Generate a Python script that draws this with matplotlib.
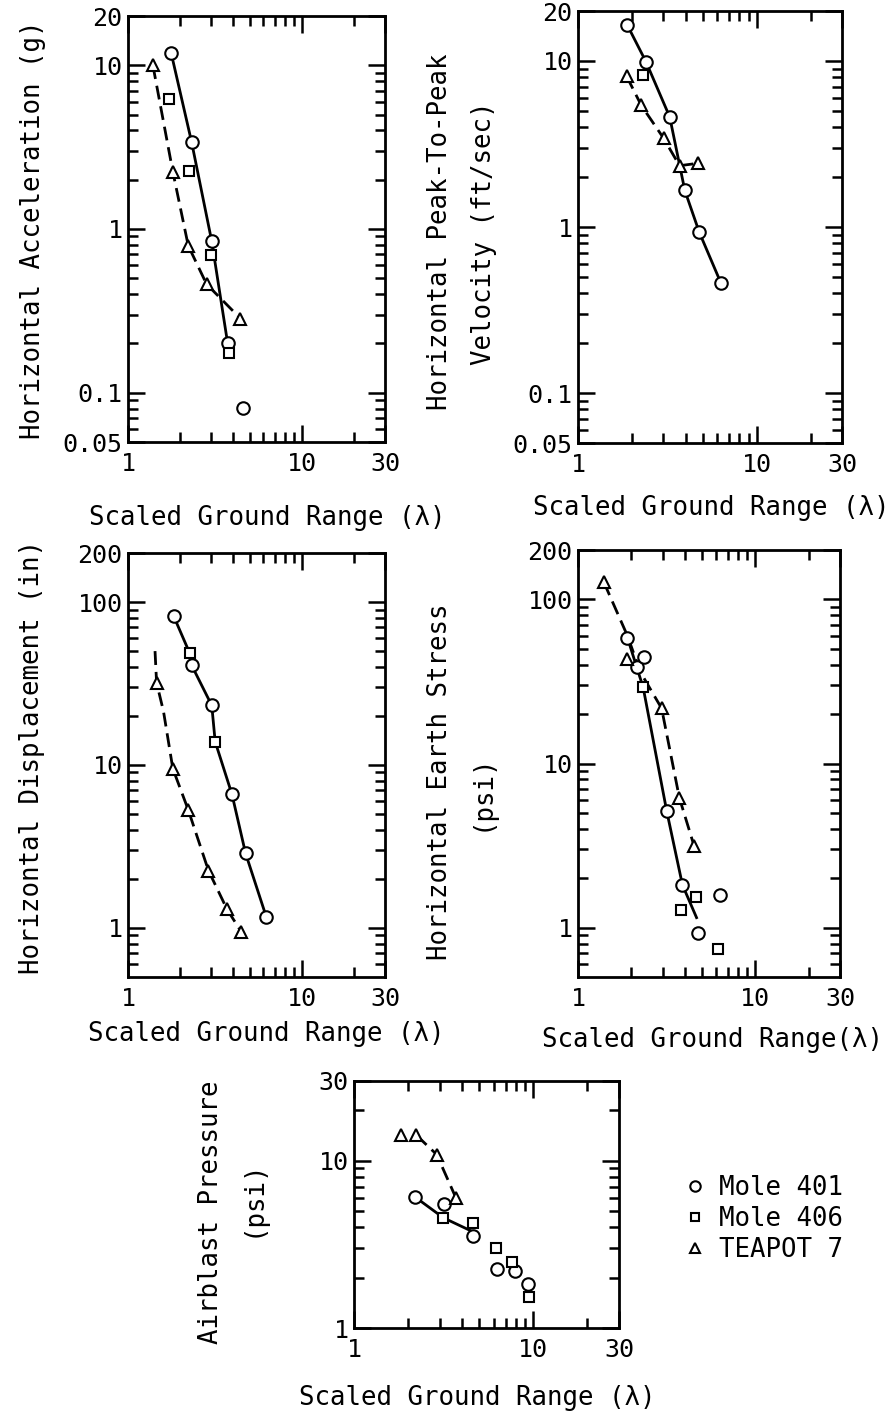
import matplotlib
matplotlib.use("Agg")
import matplotlib.pyplot as plt
from matplotlib.lines import Line2D
from matplotlib.ticker import FixedLocator, FixedFormatter, NullFormatter

W, H = 896, 1413

# values (scaled ground range vs. response)
# -- horizontal acceleration (g)
acc_401_x = [1.77, 2.32, 3.03, 3.74, 4.57]
acc_401_y = [11.9, 3.4, 0.84, 0.20, 0.081]
acc_406_x = [1.73, 2.25, 2.99, 3.79]
acc_406_y = [6.2, 2.27, 0.69, 0.175]
acc_t7_x = [1.39, 1.81, 2.22, 2.83, 4.43]
acc_t7_y = [10.0, 2.24, 0.79, 0.46, 0.284]
acc_solid_x = [1.77, 2.32, 3.03, 3.74]
acc_solid_y = [11.9, 3.4, 0.84, 0.20]
acc_dash_x = [1.39, 1.81, 2.22, 2.83, 4.43]
acc_dash_y = [10.0, 2.24, 0.79, 0.46, 0.284]

# -- horizontal peak-to-peak velocity (ft/sec)
vel_401_x = [1.89, 2.40, 3.26, 3.96, 4.77, 6.32]
vel_401_y = [16.4, 9.9, 4.6, 1.66, 0.93, 0.457]
vel_406_x = [2.30]
vel_406_y = [8.2]
vel_t7_x = [1.87, 2.26, 3.01, 3.70, 4.69]
vel_t7_y = [8.1, 5.4, 3.43, 2.34, 2.42]
vel_solid_x = [1.89, 2.40, 3.26, 3.96, 4.77, 6.32]
vel_solid_y = [16.4, 9.9, 4.6, 1.66, 0.93, 0.457]
vel_dash_x = [1.87, 2.26, 3.01, 3.70, 4.69]
vel_dash_y = [8.1, 5.4, 3.43, 2.34, 2.42]

# -- horizontal displacement (in)
dis_401_x = [1.83, 2.32, 3.03, 3.96, 4.74, 6.25]
dis_401_y = [82, 41, 23.2, 6.6, 2.87, 1.16]
dis_406_x = [2.26, 3.17]
dis_406_y = [48.7, 13.9]
dis_t7_x = [1.46, 1.81, 2.22, 2.90, 3.71, 4.47]
dis_t7_y = [32, 9.5, 5.3, 2.25, 1.30, 0.95]
dis_solid_x = [1.83, 2.26, 2.32, 3.03, 3.17, 3.96, 4.74, 6.25]
dis_solid_y = [82, 48.7, 41, 23.2, 13.9, 6.6, 2.87, 1.16]
dis_dash_x = [1.43, 1.46, 1.60, 1.81, 2.22, 2.90, 3.71, 4.47]
dis_dash_y = [50, 32, 21.3, 9.5, 5.3, 2.25, 1.30, 0.95]

# -- horizontal earth stress (psi)
str_401_x = [1.90, 2.14, 2.36, 3.16, 3.88, 4.74, 6.34]
str_401_y = [58.5, 38.8, 44.7, 5.16, 1.82, 0.93, 1.59]
str_406_x = [2.33, 3.81, 4.63, 6.12]
str_406_y = [29.1, 1.28, 1.54, 0.74]
str_t7_x = [1.40, 1.88, 2.96, 3.73, 4.52]
str_t7_y = [127, 43.2, 21.7, 6.16, 3.13]
str_solid_x = [1.90, 2.14, 2.33, 3.16, 3.88, 4.66]
str_solid_y = [58.5, 38.8, 29.1, 5.16, 1.82, 1.15]
str_dash_x = [1.40, 1.90, 2.25, 2.96, 3.73, 4.52]
str_dash_y = [127, 60, 36, 21.7, 6.16, 3.13]

# -- airblast pressure (psi)
air_401_x = [2.20, 3.18, 4.59, 6.27, 7.88, 9.37]
air_401_y = [6.05, 5.55, 3.53, 2.24, 2.18, 1.83]
air_406_x = [3.15, 4.59, 6.21, 7.61, 9.49]
air_406_y = [4.56, 4.23, 3.01, 2.48, 1.54]
air_t7_x = [1.82, 2.23, 2.89, 3.70]
air_t7_y = [14.2, 14.2, 10.9, 6.0]
air_solid_x = [2.20, 3.15, 4.49]
air_solid_y = [6.05, 4.56, 3.81]
air_dash_x = [2.23, 2.89, 3.70]
air_dash_y = [14.2, 10.9, 6.0]

series_names = ["Mole 401", "Mole 406", "TEAPOT 7"]
x_label = "Scaled Ground Range (\u03bb)"

plt.rcParams["font.family"] = ["DejaVu Sans Mono"]
plt.rcParams["axes.linewidth"] = 2.0

MARK = [dict(marker="o", ms=9), dict(marker="s", ms=7.5), dict(marker="^", ms=9)]
LABEL_SIZE = 18.5


def add_px_axes(fig, left, top, right, bottom):
    return fig.add_axes([left / W, 1 - bottom / H, (right - left) / W, (bottom - top) / H])


def fig_text(fig, x, y, s, **kw):
    fig.text(x / W, 1 - y / H, s, ha="center", va="center", fontsize=LABEL_SIZE, **kw)


def draw_panel(ax, pts, solid, dashed, ylim, ylabels):
    ax.plot(solid[0], solid[1], color="k", lw=2.0, zorder=2)
    ax.plot(dashed[0], dashed[1], color="k", lw=2.0, ls=(0, (5, 2.5)), zorder=2)
    for (xs, ys), m in zip(pts, MARK):
        ax.plot(xs, ys, ls="none", mfc="white", mec="k", mew=1.5, zorder=3, **m)
    ax.set_xscale("log")
    ax.set_yscale("log")
    ax.set_xlim(1, 30)
    ax.set_ylim(*ylim)

    ax.xaxis.set_major_locator(FixedLocator([1, 10, 30]))
    ax.xaxis.set_major_formatter(FixedFormatter(["1", "10", "30"]))
    ax.xaxis.set_minor_locator(FixedLocator([2, 3, 4, 5, 6, 7, 8, 9, 20]))
    ax.xaxis.set_minor_formatter(NullFormatter())

    ax.yaxis.set_major_locator(FixedLocator([v for v, _ in ylabels]))
    ax.yaxis.set_major_formatter(FixedFormatter([t for _, t in ylabels]))
    minors = [m * 10.0 ** e for e in range(-2, 3) for m in range(2, 10)]
    ax.yaxis.set_minor_locator(FixedLocator([v for v in minors if ylim[0] < v < ylim[1]]))
    ax.yaxis.set_minor_formatter(NullFormatter())

    ax.tick_params(which="both", direction="in", top=True, right=True, width=1.8, labelsize=18)
    ax.tick_params(which="major", length=12)
    ax.tick_params(which="minor", length=7)
    ax.tick_params(axis="x", pad=7)
    ax.tick_params(axis="y", pad=4)


fig = plt.figure(figsize=(W / 100, H / 100), dpi=100)

ax = add_px_axes(fig, 128, 16, 385, 442)
draw_panel(ax, [(acc_401_x, acc_401_y), (acc_406_x, acc_406_y), (acc_t7_x, acc_t7_y)],
           (acc_solid_x, acc_solid_y), (acc_dash_x, acc_dash_y), (0.05, 20),
           [(0.05, "0.05"), (0.1, "0.1"), (1, "1"), (10, "10"), (20, "20")])
fig_text(fig, 33, 230, "Horizontal Acceleration (g)", rotation=90)
fig_text(fig, 267, 518, x_label)

ax = add_px_axes(fig, 578, 11, 842, 443)
draw_panel(ax, [(vel_401_x, vel_401_y), (vel_406_x, vel_406_y), (vel_t7_x, vel_t7_y)],
           (vel_solid_x, vel_solid_y), (vel_dash_x, vel_dash_y), (0.05, 20),
           [(0.05, "0.05"), (0.1, "0.1"), (1, "1"), (10, "10"), (20, "20")])
fig_text(fig, 440, 232, "Horizontal Peak-To-Peak", rotation=90)
fig_text(fig, 484, 233, "Velocity (ft/sec)", rotation=90)
fig_text(fig, 711, 508, x_label)

ax = add_px_axes(fig, 128, 553, 385, 977)
draw_panel(ax, [(dis_401_x, dis_401_y), (dis_406_x, dis_406_y), (dis_t7_x, dis_t7_y)],
           (dis_solid_x, dis_solid_y), (dis_dash_x, dis_dash_y), (0.5, 200),
           [(1, "1"), (10, "10"), (100, "100"), (200, "200")])
fig_text(fig, 32, 757, "Horizontal Displacement (in)", rotation=90)
fig_text(fig, 266, 1034, x_label)

ax = add_px_axes(fig, 578, 550, 840, 977)
draw_panel(ax, [(str_401_x, str_401_y), (str_406_x, str_406_y), (str_t7_x, str_t7_y)],
           (str_solid_x, str_solid_y), (str_dash_x, str_dash_y), (0.5, 200),
           [(1, "1"), (10, "10"), (100, "100"), (200, "200")])
fig_text(fig, 440, 782, "Horizontal Earth Stress", rotation=90)
fig_text(fig, 482, 792, "(psi)", rotation=90)
fig_text(fig, 712, 1040, "Scaled Ground Range(\u03bb)")

ax = add_px_axes(fig, 354, 1081, 619, 1328)
draw_panel(ax, [(air_401_x, air_401_y), (air_406_x, air_406_y), (air_t7_x, air_t7_y)],
           (air_solid_x, air_solid_y), (air_dash_x, air_dash_y), (1, 30),
           [(1, "1"), (10, "10"), (30, "30")])
fig_text(fig, 211, 1212, "Airblast Pressure", rotation=90)
fig_text(fig, 253, 1198, "(psi)", rotation=90)
fig_text(fig, 477, 1398, x_label)

handles = [Line2D([], [], ls="none", mfc="white", mec="k", mew=1.5, marker=m["marker"],
                  ms=m["ms"] - 1.5) for m in MARK]
fig.legend(handles, series_names, loc="center left", bbox_to_anchor=(671 / W, 1 - 1219 / H),
           frameon=False, fontsize=LABEL_SIZE, borderpad=0, handlelength=0.9,
           handletextpad=0.45, labelspacing=0.18)

fig.savefig("out.png", dpi=100)
